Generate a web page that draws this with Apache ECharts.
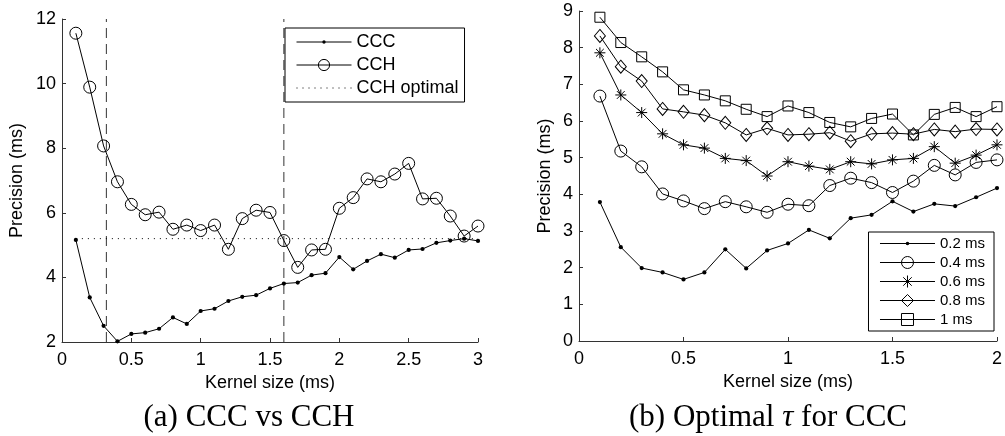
<!DOCTYPE html>
<html>
<head>
<meta charset="utf-8">
<script src="https://cdn.jsdelivr.net/npm/echarts@6/dist/echarts.min.js"></script>
<style>
html,body{margin:0;padding:0;background:#fff;}
#chart{width:1005px;height:436px;}
</style>
</head>
<body>
<div id="chart"></div>
<script>
// ---- Data (panel a) ----
var kernelA = [0.1,0.2,0.3,0.4,0.5,0.6,0.7,0.8,0.9,1.0,1.1,1.2,1.3,1.4,1.5,1.6,1.7,1.8,1.9,2.0,2.1,2.2,2.3,2.4,2.5,2.6,2.7,2.8,2.9,3.0];
var cccA = [5.16,3.38,2.50,2.02,2.25,2.29,2.41,2.76,2.56,2.96,3.03,3.27,3.40,3.45,3.66,3.81,3.84,4.07,4.13,4.63,4.25,4.51,4.72,4.61,4.85,4.88,5.07,5.14,5.20,5.13];
var cchA = [11.56,9.89,8.07,6.96,6.26,5.94,6.02,5.49,5.62,5.45,5.62,4.87,5.82,6.08,6.01,5.14,4.31,4.85,4.87,6.14,6.47,7.05,6.96,7.20,7.53,6.43,6.45,5.90,5.28,5.59];
var cchOptimalKernel = [0.1, 3.0];
var cchOptimalValue = [5.2, 5.2];
var optimalKernels = [0.32, 1.6];
var ticksA_x = [0, 3, 0.5];
var ticksA_y = [2, 12, 2];

// ---- Data (panel b) ----
var kernelB = [0.1,0.2,0.3,0.4,0.5,0.6,0.7,0.8,0.9,1.0,1.1,1.2,1.3,1.4,1.5,1.6,1.7,1.8,1.9,2.0];
var tau02 = [3.79,2.56,1.99,1.87,1.68,1.87,2.50,1.98,2.47,2.66,3.03,2.80,3.35,3.44,3.81,3.53,3.74,3.68,3.92,4.17];
var tau04 = [6.68,5.18,4.75,4.01,3.82,3.61,3.80,3.66,3.51,3.73,3.69,4.24,4.44,4.32,4.05,4.36,4.79,4.53,4.87,4.94];
var tau06 = [7.86,6.71,6.23,5.65,5.35,5.26,4.98,4.92,4.50,4.89,4.77,4.68,4.89,4.83,4.94,4.98,5.30,4.85,5.07,5.35];
var tau08 = [8.32,7.48,7.09,6.33,6.25,6.16,5.95,5.62,5.80,5.62,5.64,5.68,5.45,5.65,5.67,5.64,5.77,5.71,5.78,5.77];
var tau10 = [8.83,8.14,7.75,7.34,6.85,6.71,6.55,6.32,6.12,6.41,6.23,5.96,5.84,6.07,6.19,5.62,6.18,6.37,6.12,6.39];
var tauNames = ['0.2 ms','0.4 ms','0.6 ms','0.8 ms','1 ms'];
var ticksB_x = [0, 2, 0.5];
var ticksB_y = [0, 9, 1];

var SANS = '"Liberation Sans", Arial, sans-serif';
var SERIF = '"Liberation Serif", "Times New Roman", serif';

function zip(xs, ys){ return xs.map(function(x,i){ return [x, ys[i]]; }); }

var DOT = 'path://M0,0M20,20M10,7A3,3 0 1,1 10,13A3,3 0 1,1 10,7Z';
var STAR = 'path://M0,-6L0,6M-6,0L6,0M-4.24,-4.24L4.24,4.24M-4.24,4.24L4.24,-4.24';

function markerSeries(name, xi, yi, xs, ys, symbol, size, filled){
  return {
    type:'line', name:name, xAxisIndex:xi, yAxisIndex:yi,
    data: zip(xs, ys), symbol: symbol, symbolSize: size, showAllSymbol:true,
    lineStyle:{color:'#000', width:1},
    itemStyle:{color: filled ? '#000' : 'rgba(0,0,0,0)', borderColor:'#000', borderWidth: filled ? 0 : 1},
    emphasis:{disabled:true}, silent:true, z: 3
  };
}

function axisCommon(){
  return {
    axisLine:{show:true, lineStyle:{color:'#333', width:1}},
    axisTick:{show:true, inside:true, length:4, lineStyle:{color:'#333'}},
    splitLine:{show:false},
    axisLabel:{color:'#000', fontSize:18, fontFamily:SANS},
    nameTextStyle:{color:'#000', fontSize:18, fontFamily:SANS},
    nameLocation:'middle'
  };
}

function mk(base, extra){ var o = axisCommon(); for (var k in extra){ o[k]=extra[k]; } return o; }

var xAxes = [
  mk({}, {type:'value', gridIndex:0, min:ticksA_x[0], max:ticksA_x[1], interval:ticksA_x[2], name:'Kernel size (ms)', nameGap:29,
    axisLabel:{color:'#000', fontSize:18, fontFamily:SANS, margin:9}}),
  mk({}, {type:'value', gridIndex:1, min:ticksB_x[0], max:ticksB_x[1], interval:ticksB_x[2], name:'Kernel size (ms)', nameGap:29,
    axisLabel:{color:'#000', fontSize:18, fontFamily:SANS, margin:9}})
];
var yAxes = [
  mk({}, {type:'value', gridIndex:0, min:ticksA_y[0], max:ticksA_y[1], interval:ticksA_y[2], name:'Precision (ms)', nameGap:36,
    axisLabel:{color:'#000', fontSize:18, fontFamily:SANS, margin:6}}),
  mk({}, {type:'value', gridIndex:1, min:ticksB_y[0], max:ticksB_y[1], interval:ticksB_y[2], name:'Precision (ms)', nameGap:25,
    axisLabel:{color:'#000', fontSize:18, fontFamily:SANS, margin:6}})
];

var series = [
  markerSeries('CCC', 0, 0, kernelA, cccA, DOT, 14, true),
  markerSeries('CCH', 0, 0, kernelA, cchA, 'circle', 12, false),
  {type:'line', name:'CCH optimal', xAxisIndex:0, yAxisIndex:0, data: zip(cchOptimalKernel, cchOptimalValue),
   symbol:'none', lineStyle:{color:'#000', width:1, type:[1,5]}, itemStyle:{color:'rgba(0,0,0,0)', borderWidth:0}, silent:true, z:2},
  {type:'line', name:'optA1', xAxisIndex:0, yAxisIndex:0, data: [[optimalKernels[0], ticksA_y[0]],[optimalKernels[0], ticksA_y[1]]],
   symbol:'none', lineStyle:{color:'#333', width:1, type:[10,6]}, silent:true, z:1},
  {type:'line', name:'optA2', xAxisIndex:0, yAxisIndex:0, data: [[optimalKernels[1], ticksA_y[0]],[optimalKernels[1], ticksA_y[1]]],
   symbol:'none', lineStyle:{color:'#333', width:1, type:[10,6]}, silent:true, z:1},
  markerSeries(tauNames[0], 1, 1, kernelB, tau02, DOT, 14, true),
  markerSeries(tauNames[1], 1, 1, kernelB, tau04, 'circle', 12, false),
  markerSeries(tauNames[2], 1, 1, kernelB, tau06, STAR, 11, false),
  markerSeries(tauNames[3], 1, 1, kernelB, tau08, 'diamond', [11,13], false),
  markerSeries(tauNames[4], 1, 1, kernelB, tau10, 'rect', 10, false)
];

function legendItems(names, dotNames){
  return names.map(function(n){
    return dotNames.indexOf(n) >= 0 ? {name:n, itemStyle:{borderWidth:0}} : {name:n};
  });
}

var chart = echarts.init(document.getElementById('chart'), null, {renderer:'canvas'});
chart.setOption({
  animation:false,
  backgroundColor:'#fff',
  grid:[
    {left:62, top:19, width:416, height:323},
    {left:579, top:11, width:424.7, height:330}
  ],
  xAxis: xAxes,
  yAxis: yAxes,
  legend:[
    {data:legendItems(['CCC','CCH','CCH optimal'], ['CCC','CCH optimal']), left:285, top:28, orient:'vertical',
     itemWidth:55, itemHeight:14, itemGap:5, padding:[5,6,5,11],
     borderColor:'#000', borderWidth:1, backgroundColor:'#fff', selectedMode:false,
     lineStyle:{width:1}, itemStyle:{borderWidth:1},
     textStyle:{color:'#000', fontSize:18, fontFamily:SANS}},
    {data:legendItems(tauNames, ['0.2 ms']), right:11, top:232, orient:'vertical',
     itemWidth:55, itemHeight:15, itemGap:4, padding:[4,9,4,11],
     borderColor:'#000', borderWidth:1, backgroundColor:'#fff', selectedMode:false,
     lineStyle:{width:1}, itemStyle:{borderWidth:1},
     textStyle:{color:'#000', fontSize:15, fontFamily:SANS}}
  ],
  graphic:[
    {type:'text', x:249, y:418, silent:true, style:{text:'(a) CCC vs CCH', font:'31px ' + SERIF, fill:'#000', textAlign:'center', textVerticalAlign:'middle'}},
    {type:'text', x:768, y:418, silent:true, style:{text:'(b) Optimal {i|τ} for CCC', font:'31px ' + SERIF, fill:'#000', textAlign:'center', textVerticalAlign:'middle',
      rich:{i:{font:'italic 31px ' + SERIF, fill:'#000'}}}}
  ],
  series: series
});
</script>
</body>
</html>
